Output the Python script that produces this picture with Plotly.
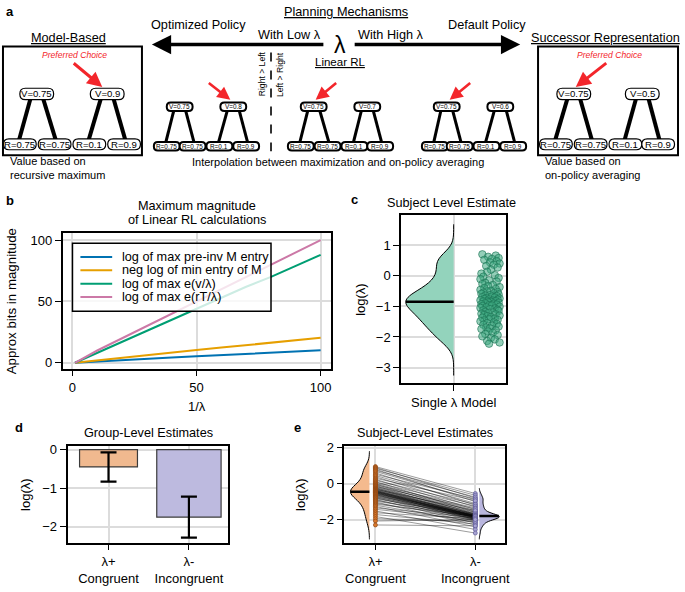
import numpy as np
import plotly.graph_objects as go

W, H = 685, 592
FONT = "Liberation Sans, Arial, Helvetica, sans-serif"

# ---------------- data ----------------
# panel a (tree diagrams)
reward_labels = ["R=0.75", "R=0.75", "R=0.1", "R=0.9"]
mb_values = ["V=0.75", "V=0.9"]
sr_values = ["V=0.75", "V=0.5"]
linrl_values = [["V=0.75", "V=0.8"], ["V=0.75", "V=0.7"], ["V=0.75", "V=0.6"]]

# panel b
inv_lambda = [1, 10, 20, 30, 40, 50, 60, 70, 80, 90, 100]
b_names = ["log of max pre-inv M entry", "neg log of min entry of M",
           "log of max e(v/λ)", "log of max e(rT/λ)"]
b_colors = ["#0072B2", "#E69F00", "#009E73", "#CC79A7"]
bits_preinv = [0, 1.1, 2.2, 3.2, 4.3, 5.3, 6.3, 7.3, 8.3, 9.3, 10.2]
bits_minM = [0, 2.0, 4.1, 6.2, 8.3, 10.4, 12.4, 14.4, 16.4, 18.4, 20.3]
bits_ev = [0, 8, 17, 26, 35, 44, 53, 62, 70, 79, 88]
bits_erT = [0, 10, 20, 30, 40, 50, 60, 70, 80, 90, 100]

# panel c : subject level log(lambda), single-lambda model
c_logl = [0.7, 0.66, 0.62, 0.58, 0.55, 0.52,
          0.48, 0.44, 0.4, 0.36, 0.32, 0.27,
          0.2, 0.13, 0.07, 0.02,
          -0.03, -0.07, -0.11, -0.15, -0.19, -0.23,
          -0.27, -0.3, -0.34, -0.37, -0.4, -0.43, -0.46, -0.49,
          -0.51, -0.53, -0.55, -0.57, -0.59, -0.61, -0.63, -0.65, -0.66, -0.68,
          -0.7, -0.71, -0.73, -0.74,
          -0.76, -0.77, -0.78, -0.8, -0.81, -0.82, -0.83, -0.84, -0.85, -0.87,
          -0.88, -0.9, -0.91, -0.93, -0.94, -0.96, -0.97, -0.99,
          -1.01, -1.03, -1.05, -1.07, -1.09, -1.11, -1.13, -1.15, -1.18, -1.2,
          -1.22, -1.24,
          -1.26, -1.28, -1.3, -1.32, -1.35, -1.37, -1.4, -1.42, -1.44, -1.46, -1.49,
          -1.52, -1.55, -1.57, -1.6, -1.63, -1.66, -1.69, -1.72, -1.74,
          -1.78, -1.82, -1.86, -1.9, -1.94, -1.98,
          -2.03, -2.08, -2.13, -2.18, -2.22]
c_jitter = [0.30, 0.44, 0.36, 0.47, 0.40, 0.32, 0.45, 0.38, 0.48, 0.42,
            0.34, 0.46, 0.39, 0.35, 0.29, 0.43, 0.31, 0.47, 0.28, 0.37,
            0.45, 0.33, 0.30, 0.41, 0.36, 0.48, 0.32, 0.44, 0.28, 0.39,
            0.35, 0.46, 0.31, 0.42, 0.29, 0.47, 0.38, 0.33, 0.45, 0.40,
            0.30, 0.43, 0.34, 0.48, 0.32, 0.37, 0.46, 0.28, 0.41, 0.35,
            0.44, 0.31, 0.39, 0.36, 0.47, 0.33, 0.42, 0.29, 0.45, 0.37,
            0.40, 0.30, 0.48, 0.34, 0.28, 0.43, 0.38, 0.46, 0.31, 0.47,
            0.33, 0.41, 0.36, 0.29, 0.44, 0.32, 0.48, 0.35, 0.39, 0.30,
            0.43, 0.37, 0.46, 0.32, 0.28, 0.42, 0.35, 0.45, 0.31, 0.40,
            0.47, 0.34, 0.38, 0.29, 0.44, 0.36, 0.41, 0.33, 0.46, 0.30,
            0.39, 0.43, 0.35, 0.48, 0.37]

# panel d : group level
group_labels = ["λ+<br>Congruent", "λ-<br>Incongruent"]
group_means = [-0.45, -1.75]
group_err = [0.38, 0.53]

# panel e : subject level, two-lambda model (paired)
lam_pos = [0.95, 0.9, 0.85, 0.8, 0.74, 0.68, 0.6, 0.52, 0.45, 0.38,
           0.3, 0.24, 0.18, 0.12, 0.07, 0.02, -0.02, -0.06, -0.1, -0.13,
           -0.16, -0.19, -0.22, -0.25, -0.27, -0.3, -0.32, -0.34, -0.36, -0.38,
           -0.4, -0.41, -0.43, -0.44, -0.46, -0.47, -0.49, -0.5, -0.52, -0.54,
           -0.56, -0.58, -0.6, -0.62, -0.65, -0.68, -0.71, -0.74, -0.77, -0.8,
           -0.84, -0.88, -0.92, -0.97, -1.02, -1.08, -1.14, -1.2, -1.27, -1.35,
           -1.43, -1.52, -1.62, -1.72, -1.83, -1.95, -2.08, -2.3]
lam_neg = [-0.55, -0.8, -0.65, -1.0, -0.75, -0.9, -1.2, -0.85, -1.1, -1.3,
           -0.95, -1.45, -1.15, -1.6, -1.25, -1.5, -1.7, -1.35, -1.55, -1.75,
           -1.4, -1.65, -1.8, -1.6, -1.85, -1.7, -1.5, -1.78, -1.9, -1.72,
           -1.82, -1.95, -1.68, -1.8, -1.88, -1.76, -2.0, -1.84, -1.79, -1.92,
           -1.74, -1.86, -2.05, -1.81, -1.9, -1.77, -1.98, -1.83, -2.1, -1.87,
           -1.8, -2.2, -1.93, -1.85, -2.3, -1.96, -1.82, -2.15, -2.4, -1.9,
           -2.02, -2.55, -1.95, -2.25, -2.75, -2.1, -2.0, -2.35]

# ---------------- helpers ----------------
def X(px):
    return px / W


def Y(py):
    return 1 - py / H


shapes = []
annotations = []


def text(px, py, s, size=12.7, color="black", xanchor="center", yanchor="middle",
         angle=0, bold=False, italic=False, align="center"):
    if bold:
        s = "<b>" + s + "</b>"
    if italic:
        s = "<i>" + s + "</i>"
    annotations.append(dict(x=X(px), y=Y(py), xref="paper", yref="paper", text=s,
                            showarrow=False, xanchor=xanchor, yanchor=yanchor,
                            textangle=angle, align=align,
                            font=dict(size=size, color=color, family=FONT)))


def arrow(hx, hy, tx, ty, color, width, head=2, size=1.0):
    annotations.append(dict(x=X(hx), y=Y(hy), xref="paper", yref="paper", text="",
                            showarrow=True, ax=tx - hx, ay=ty - hy, arrowhead=head,
                            arrowsize=size, arrowwidth=width, arrowcolor=color,
                            standoff=0, startstandoff=0))


def line(x0, y0, x1, y1, color="black", width=1.5, dash="solid"):
    shapes.append(dict(type="line", xref="paper", yref="paper", x0=X(x0), y0=Y(y0),
                       x1=X(x1), y1=Y(y1), layer="above",
                       line=dict(color=color, width=width, dash=dash)))


def rect(x0, y0, x1, y1, lw=2, fill="rgba(0,0,0,0)"):
    shapes.append(dict(type="rect", xref="paper", yref="paper", x0=X(x0), y0=Y(y0),
                       x1=X(x1), y1=Y(y1), layer="above", fillcolor=fill,
                       line=dict(color="black", width=lw)))


def rrect(cx, cy, w, h, r, lw):
    x0, x1, y0, y1 = cx - w / 2, cx + w / 2, cy - h / 2, cy + h / 2
    p = lambda a, b: f"{X(a):.5f},{Y(b):.5f}"
    path = (f"M{p(x0 + r, y0)} L{p(x1 - r, y0)} Q{p(x1, y0)} {p(x1, y0 + r)} "
            f"L{p(x1, y1 - r)} Q{p(x1, y1)} {p(x1 - r, y1)} L{p(x0 + r, y1)} "
            f"Q{p(x0, y1)} {p(x0, y1 - r)} L{p(x0, y0 + r)} Q{p(x0, y0)} {p(x0 + r, y0)} Z")
    shapes.append(dict(type="path", xref="paper", yref="paper", path=path, layer="above",
                       fillcolor="white", line=dict(color="black", width=lw)))


def trees(vx, vy, rx, ry, vtexts, rtexts, big):
    if big:
        vw, vh, rw, rh, rad, lw, fs, ew = 34, 11.5, 33, 11, 5.5, 1.2, 9.6, 4
    else:
        vw, vh, rw, rh, rad, lw, fs, ew = 26, 8.5, 26, 8.5, 4, 2, 6.4, 3
    for i in range(2):
        line(vx[i] - 5, vy, rx[2 * i] - 2, ry, width=ew)
        line(vx[i] + 5, vy, rx[2 * i + 1] + 2.5, ry, width=ew)
    for i in range(2):
        rrect(vx[i], vy, vw, vh, rad, lw)
        text(vx[i], vy, vtexts[i], size=fs)
    for j in range(4):
        rrect(rx[j], ry, rw, rh, rad, lw)
        text(rx[j], ry, rtexts[j], size=fs)


def kde_ratio(vals, bw, span, yq):
    """density at yq relative to the max density over the violin span (gaussian kernel)"""
    v = np.asarray(vals, dtype=float)
    dens = lambda t: np.exp(-0.5 * ((np.atleast_1d(t)[:, None] - v[None, :]) / bw) ** 2).sum(1)
    grid = np.linspace(span[0], span[1], 500)
    return float(dens(yq)[0] / dens(grid).max())


RED = "#F3262B"

# ---------------- panel a ----------------
text(10, 7, "a", size=13, bold=True)
text(349, 7, "<u>Planning Mechanisms</u>", size=12.7)
text(200, 20, "Optimized Policy")
text(491, 20, "Default Policy")
text(292, 30, "With Low λ")
text(394, 30, "With High λ")
text(342, 40, "λ", size=23)
arrow(153, 40, 326, 40, "black", 3.5, head=2, size=1.1)
arrow(524, 40, 357, 40, "black", 3.5, head=2, size=1.1)
text(69, 33, "<u>Model-Based</u>")
text(610, 33, "<u>Successor Representation</u>")
text(343, 58, "<u>Linear RL</u>", size=11.5)

rect(3, 42, 143, 152)
rect(542, 42, 683, 152)
text(75, 51, "Preferred Choice", size=8.6, color=RED, italic=True)
text(614, 51, "Preferred Choice", size=8.6, color=RED, italic=True)
arrow(103, 83, 73, 58, RED, 3)
arrow(580, 83, 612, 58, RED, 3)

trees([37, 108], 90, [20, 55, 90, 125], 141, mb_values, reward_labels, True)
trees([578, 647], 90, [560, 595, 630, 663], 141, sr_values, reward_labels, True)

small_v = [[181, 235], [316, 370], [450, 504]]
small_r = [[168, 194, 221, 248], [303, 330, 357, 383], [438, 463, 490, 517]]
for k in range(3):
    trees(small_v[k], 103, small_r[k], 143, linrl_values[k], reward_labels, False)
arrow(232, 96, 209, 78, RED, 2.6)
arrow(318, 96, 340, 78, RED, 2.6)
arrow(453, 96, 475, 78, RED, 2.6)

line(273, 48, 273, 148, width=1.6, dash="dash")
text(264, 70, "Right > Left", size=8.6, angle=-90)
text(282, 70, "Left > Right", size=8.6, angle=-90)

text(8, 158, "Value based on", size=11, xanchor="left")
text(8, 172, "recursive maximum", size=11, xanchor="left")
text(547, 158, "Value based on", size=11, xanchor="left")
text(547, 172, "on-policy averaging", size=11, xanchor="left")
text(340, 159, "Interpolation between maximization and on-policy averaging", size=11)

# ---------------- figure / traces ----------------
fig = go.Figure()

# panel b
for name, col, vals in zip(b_names, b_colors, [bits_preinv, bits_minM, bits_ev, bits_erT]):
    fig.add_trace(go.Scatter(x=inv_lambda, y=vals, mode="lines", name=name,
                             line=dict(color=col, width=2), xaxis="x", yaxis="y",
                             showlegend=False))

# manual legend for panel b
rect(73, 241, 273, 310, lw=1.5, fill="rgba(255,255,255,0.8)")
for i, (name, col) in enumerate(zip(b_names, b_colors)):
    yy = 255 + i * 13.5
    line(81, yy, 113, yy, color=col, width=2)
    text(121, yy, name, size=12.7, xanchor="left")


def half_violin(vals, pos, side, width, bw, span, fill, axx, axy):
    fig.add_trace(go.Violin(y=vals, x0=pos, side=side, width=width, bandwidth=bw,
                            spanmode="manual", span=span, scalemode="width",
                            fillcolor=fill, line=dict(color="black", width=1),
                            points=False, opacity=1, xaxis=axx, yaxis=axy,
                            showlegend=False, hoveron="violins"))
    med = float(np.median(vals))
    reach = width / 2 * kde_ratio(vals, bw, span, med)
    sgn = -1 if side == "negative" else 1
    fig.add_trace(go.Scatter(x=[pos, pos + sgn * reach], y=[med, med], mode="lines",
                             line=dict(color="black", width=2.5), xaxis=axx, yaxis=axy,
                             showlegend=False, hoverinfo="skip"))


# panel c
half_violin(c_logl, 0, "negative", 1.0, 0.26, [-3.26, 1.68], "#93D3BC", "x2", "y2")
fig.add_trace(go.Scatter(x=c_jitter, y=c_logl, mode="markers", xaxis="x2", yaxis="y2",
                         marker=dict(size=7.5, color="rgba(60,168,128,0.55)",
                                     line=dict(color="rgba(25,110,80,0.75)", width=0.8)),
                         showlegend=False))

# panel d
fig.add_trace(go.Bar(x=[1, 2], y=group_means, width=[0.72, 0.8],
                     marker=dict(color=["#F0B98F", "#BDBADF"],
                                 line=dict(color="#3a3a3a", width=1.2)),
                     error_y=dict(type="data", array=group_err, color="black",
                                  thickness=2.2, width=8),
                     xaxis="x3", yaxis="y3", showlegend=False))

# panel e
half_violin(lam_pos, 0.94, "negative", 0.38, 0.3, [-3.1, 1.8], "#F4BA8E", "x4", "y4")
half_violin(lam_neg, 2.04, "positive", 0.4, 0.13, [-3.1, -0.25], "#B9B6DE", "x4", "y4")
lx, ly = [], []
for a, b in zip(lam_pos, lam_neg):
    lx += [1, 2, None]
    ly += [a, b, None]
fig.add_trace(go.Scatter(x=lx, y=ly, mode="lines", line=dict(color="rgba(0,0,0,0.65)", width=0.6),
                         xaxis="x4", yaxis="y4", showlegend=False, hoverinfo="skip"))
fig.add_trace(go.Scatter(x=[1] * len(lam_pos), y=lam_pos, mode="markers",
                         marker=dict(size=4, color="#D9782C", line=dict(color="#8B4513", width=0.7)),
                         xaxis="x4", yaxis="y4", showlegend=False))
fig.add_trace(go.Scatter(x=[2] * len(lam_neg), y=lam_neg, mode="markers",
                         marker=dict(size=4, color="#A7A3D3", line=dict(color="#5E5A96", width=0.7)),
                         xaxis="x4", yaxis="y4", showlegend=False))

# ---------------- panel texts ----------------
text(10, 198, "b", size=13, bold=True)
text(198, 203, "Maximum magnitude", size=12.7)
text(198, 218, "of Linear RL calculations", size=12.7)
text(12, 300, "Approx bits in magnitude", size=13.3, angle=-90)
text(198, 406, "1/λ", size=13)

text(357, 197, "c", size=13, bold=True)
text(455, 200, "Subject Level Estimate", size=12.7)
text(363, 298, "log(λ)", size=13, angle=-90)

text(19, 428, "d", size=13, bold=True)
text(150, 433, "Group-Level Estimates", size=12.7)
text(25, 495, "log(λ)", size=13, angle=-90)

text(300, 428, "e", size=13, bold=True)
text(428, 433, "Subject-Level Estimates", size=12.7)
text(302, 495, "log(λ)", size=13, angle=-90)


# ---------------- axes ----------------
def ax(dom, rng, tickvals, ticktext=None):
    d = dict(domain=dom, range=rng, tickvals=tickvals, showline=True, linecolor="black",
             linewidth=1.6, mirror=True, ticks="outside", ticklen=6, tickwidth=1.3,
             tickcolor="black", showgrid=True, gridcolor="#DCDCDC", gridwidth=1.5,
             zeroline=False, tickfont=dict(size=13, family=FONT, color="black"),
             fixedrange=True, type="linear")
    if ticktext is not None:
        d["ticktext"] = ticktext
    return d


fig.update_layout(
    width=W, height=H, margin=dict(l=0, r=0, t=0, b=0),
    paper_bgcolor="white", plot_bgcolor="white",
    font=dict(family=FONT, color="black"),
    showlegend=False,
    xaxis=ax([X(63), X(333)], [-4, 104], [0, 50, 100]),
    yaxis=ax([Y(368), Y(231)], [-4.8, 105.6], [0, 50, 100]),
    xaxis2=ax([X(404), X(510)], [-0.55, 0.55], [0], ["Single λ Model"]),
    yaxis2=ax([Y(383), Y(213)], [-3.52, 1.97], [-3, -2, -1, 0, 1]),
    xaxis3=ax([X(68), X(230)], [0.49, 2.49], [1, 2], group_labels),
    yaxis3=ax([Y(544), Y(446)], [-2.41, 0.1], [-2, -1, 0]),
    xaxis4=ax([X(347), X(509)], [0.69, 2.3], [1, 2], group_labels),
    yaxis4=ax([Y(544), Y(446)], [-3.28, 2.11], [-2, 0, 2]),
    shapes=shapes, annotations=annotations,
    violinmode="overlay", violingap=0, violingroupgap=0,
)
fig.update_layout(yaxis=dict(anchor="x"), xaxis=dict(anchor="y"),
                  xaxis2=dict(anchor="y2"), yaxis2=dict(anchor="x2"),
                  xaxis3=dict(anchor="y3"), yaxis3=dict(anchor="x3"),
                  xaxis4=dict(anchor="y4"), yaxis4=dict(anchor="x4"))

fig.write_html("out.html", config={"displayModeBar": False},
               post_script="document.body.style.margin='0px';")
